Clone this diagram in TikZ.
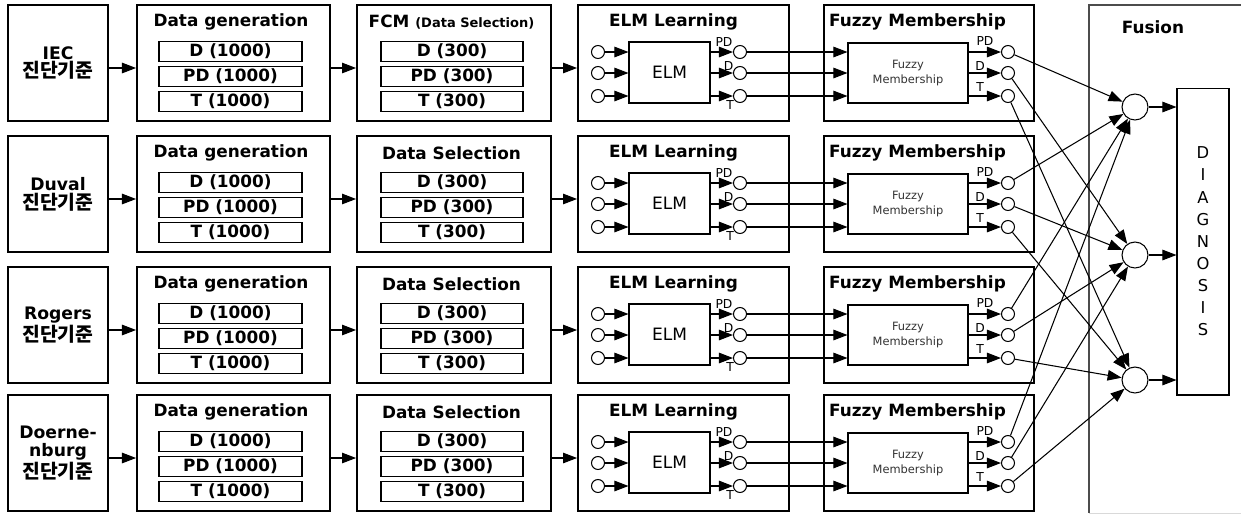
\documentclass[tikz,border=0pt]{standalone}
\usepackage{fontspec}
\setmainfont{DejaVu Sans}
\newfontfamily\kr{Noto Sans CJK KR}
\usetikzlibrary{arrows.meta,calc}
\tikzstyle{blk}=[draw,rectangle,line width=1.1pt,inner sep=0pt,minimum height=2.32cm]
\tikzstyle{cnt}=[draw,rectangle,line width=0.7pt,inner sep=0pt,minimum height=0.4cm,
               font=\bfseries\fontsize{9.6}{11}\selectfont]
\tikzstyle{box}=[draw,rectangle,line width=0.6pt,inner sep=0pt]
\tikzstyle{pin}=[draw,circle,line width=0.6pt,minimum size=0.26cm,inner sep=0pt]
\tikzstyle{hit}=[-{Triangle[length=8pt,width=6pt]},line width=0.6pt]
\tikzstyle{ttl}=[inner sep=0pt,font=\bfseries\fontsize{9.6}{11}\selectfont]
\tikzstyle{lbl}=[inner sep=0pt,font=\fontsize{7}{8}\selectfont]
\newcommand{\krlab}{\kr\bfseries\fontsize{11}{12}\selectfont 진단기준}

\begin{document}
\begin{tikzpicture}[x=0.02cm,y=-0.02cm]

\useasboundingbox (0,0) rectangle (1241,515);

% % % % % % % % % % % % % % %

\foreach \r/\yt/\src/\sel in {1/5/{IEC\\{\krlab}}/{FCM {\fontsize{7.4}{9}\selectfont (Data Selection)}},
                             2/136/{Duval\\{\krlab}}/{Data Selection},
                             3/267/{Rogers\\{\krlab}}/{Data Selection},
                             4/395/{Doerne-\\nburg\\{\krlab}}/{Data Selection}} {

\node[blk,minimum width=2cm,align=center,font=\bfseries\fontsize{9.8}{10.8}\selectfont] (src\r) at (58,\yt+58) {\src};

\node[blk,minimum width=3.86cm] (gen\r) at (233.5,\yt+58) {};
\node[ttl] (gent\r) at (231,\yt+17) {Data generation};
\foreach \k/\c/\dy in {1/D/46.5,2/PD/71.5,3/T/96.5} {
\node[cnt,minimum width=2.86cm] (gd\r-\k) at (230.5,\yt+\dy) {\c\ (1000)};
}

\node[blk,minimum width=3.88cm] (sel\r) at (454,\yt+58) {};
\node[ttl] (selt\r) at (451.5,\yt+17) {\sel};
\foreach \k/\c/\dy in {1/D/46.5,2/PD/71.5,3/T/96.5} {
\node[cnt,minimum width=2.84cm] (sd\r-\k) at (452,\yt+\dy) {\c\ (300)};
}

\node[blk,minimum width=4.22cm] (elm\r) at (683.5,\yt+58) {};
\node[ttl] (elmt\r) at (673.5,\yt+17) {ELM Learning};
\node[box,minimum width=1.62cm,minimum height=1.22cm,font=\fontsize{9.7}{11}\selectfont] (em\r) at (669.5,\yt+67.5) {ELM};

\node[blk,minimum width=4.2cm] (fuz\r) at (929,\yt+58) {};
\node[ttl] (fuzt\r) at (917.5,\yt+17) {Fuzzy Membership};
\node[box,minimum width=2.4cm,minimum height=1.2cm,align=center,text=black!80,
      font=\fontsize{6.5}{8}\selectfont] (fm\r) at (908,\yt+68) {Fuzzy\\Membership};

\draw[hit] ([yshift=-1mm]src\r.east) -- ([yshift=-1mm]gen\r.west);
\draw[hit] ([yshift=-1mm]gen\r.east) -- ([yshift=-1mm]sel\r.west);
\draw[hit] ([yshift=-1mm]sel\r.east) -- ([yshift=-1mm]elm\r.west);

\foreach \k/\dy in {1/47,2/68,3/91} {
\node[pin] (ei\r-\k) at (598,\yt+\dy) {};
\node[pin] (eo\r-\k) at (740,\yt+\dy) {};
\node[pin] (fo\r-\k) at (1008,\yt+\dy) {};
\draw[hit] (ei\r-\k) -- (ei\r-\k -| em\r.west);
\draw[hit] (em\r.east |- eo\r-\k) -- (eo\r-\k);
\draw[hit] (eo\r-\k) -- (eo\r-\k -| fm\r.west);
\draw[hit] (fm\r.east |- fo\r-\k) -- (fo\r-\k);
}

\node[lbl] (epd\r) at (724,\yt+37) {PD};
\node[lbl] (ed\r) at (728.5,\yt+61) {D};
\node[lbl] (et\r) at (730,\yt+100) {T};
\node[lbl] (fpd\r) at (985,\yt+36) {PD};
\node[lbl] (fd\r) at (980,\yt+61) {D};
\node[lbl] (ft\r) at (980,\yt+82) {T};
}

% fusion
\draw[line width=0.6pt,black!70] (1241,5) -- (1089,5) -- (1089,513);
\draw[line width=0.5pt,black!15] (1089,513) -- (1241,513);
\node[ttl] (fus) at (1153,27) {Fusion};

\node[pin,minimum size=0.52cm] (fc1) at (1135,107) {};
\node[pin,minimum size=0.52cm] (fc2) at (1135,255) {};
\node[pin,minimum size=0.52cm] (fc3) at (1135,380) {};

\node[box,minimum width=1.04cm,minimum height=6.14cm,align=center,
      font=\fontsize{9.3}{12.6}\selectfont] (diag) at (1203,241.5) {D\\I\\A\\G\\N\\O\\S\\I\\S};

\foreach \k in {1,2,3} {
\draw[hit] (fc\k) -- (fc\k -| diag.west);
}
\foreach \r in {1,...,4} {
\foreach \k in {1,2,3} {
\draw[hit] (fo\r-\k) -- (fc\k);
}
}

\end{tikzpicture}
\end{document}
